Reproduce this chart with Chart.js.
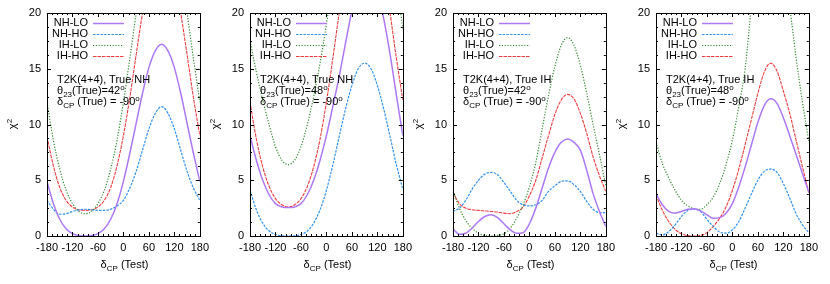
<!DOCTYPE html>
<html lang="en">
  <head>
    <meta charset="UTF-8" />
    <title>chi2 vs deltaCP, T2K(4+4)</title>
    <script src="https://cdn.jsdelivr.net/npm/chart.js"></script>
    <style>
      body {
        margin: 0;
        width: 830px;
        height: 284px;
        background: #fff;
        position: relative;
        overflow: hidden;
        font-family: "Liberation Sans", Arial, sans-serif;
        color: #000;
      }
      .panel {
        position: absolute;
        top: 0;
        width: 213px;
        height: 284px;
      }
      .note {
        position: absolute;
        top: 74px;
        font-size: 11px;
        line-height: 11px;
        white-space: nowrap;
      }
      .note div {
        height: 11px;
      }
      sub,
      sup {
        font-size: 8px;
        line-height: 0;
        position: relative;
        vertical-align: baseline;
      }
      sub {
        top: 3px;
      }
      sup {
        top: -4px;
      }
      .xtitle {
        position: absolute;
        top: 258px;
        width: 155px;
        text-align: center;
        font-size: 11px;
        line-height: 13px;
        white-space: nowrap;
      }
      .ytitle {
        position: absolute;
        top: 117px;
        width: 30px;
        height: 14px;
        text-align: center;
        font-size: 11px;
        line-height: 14px;
        transform: rotate(-90deg);
      }
    </style>
  </head>
  <body>
    <script>
      // delta_CP (test) grid, degrees
      const deltaCP = [
        -180, -165, -150, -135, -120, -105, -90, -75, -60, -45, -30, -15, 0,
        15, 30, 45, 60, 75, 90, 105, 120, 135, 150, 165, 180,
      ];
      const seriesNames = ["NH-LO", "NH-HO", "IH-LO", "IH-HO"];

      // True NH, theta23 = 42
      const nhLo1 = [4.9, 2.9, 1.5, 0.65, 0.22, 0.05, 0, 0.05, 0.22, 0.65, 1.5, 2.9, 4.9, 7.4, 10.1, 12.8, 15.1, 16.6, 17.2, 16.6, 15.1, 12.8, 10.1, 7.4, 4.9];
      const nhHo1 = [3.2, 2.4, 1.95, 2.0, 2.2, 2.35, 2.4, 2.35, 2.3, 2.3, 2.4, 2.7, 3.2, 4.3, 5.8, 7.7, 9.6, 11.0, 11.6, 11.0, 9.6, 7.7, 5.8, 4.3, 3.2];
      const ihLo1 = [12, 8.6, 6, 4.1, 2.9, 2.2, 2.0, 2.2, 2.9, 4.1, 6, 8.6, 12, 15.9, 20, 23.9, 27.1, 29.2, 30, 29.2, 27.1, 23.9, 20, 15.9, 12];
      const ihHo1 = [8.9, 6.3, 4.35, 3.2, 2.6, 2.35, 2.3, 2.35, 2.6, 3.2, 4.35, 6.3, 9, 12.4, 16.25, 20, 23.2, 25.3, 26.1, 25.3, 23.2, 20, 16.25, 12.4, 9];

      // True NH, theta23 = 48
      const nhLo2 = [9, 6.8, 5.0, 3.7, 2.9, 2.6, 2.55, 2.6, 2.9, 3.7, 5.0, 6.8, 9, 11.6, 14.3, 17.3, 20.2, 22.4, 23.5, 23.2, 21.8, 19.5, 16.3, 12.6, 9];
      const nhHo2 = [4.1, 2.35, 1.15, 0.45, 0.13, 0.02, 0, 0.02, 0.13, 0.45, 1.15, 2.35, 4.1, 6.35, 8.9, 11.4, 13.5, 15.0, 15.5, 15.0, 13.5, 11.4, 8.9, 6.35, 4.2];
      const ihLo2 = [17.5, 14.7, 12.2, 10.0, 8.0, 6.8, 6.4, 6.8, 8.0, 10.0, 12.5, 15.5, 19, 23, 27, 30, 32, 33, 33.5, 33, 32, 30, 27, 23, 18.6];
      const ihHo2 = [12, 8.7, 6.2, 4.45, 3.35, 2.8, 2.6, 2.8, 3.35, 4.45, 6.2, 8.7, 12, 15.9, 20, 24, 27.2, 29.4, 30.2, 29.4, 27.2, 24, 20, 15.9, 12.2];

      // True IH, theta23 = 42
      const nhLo3 = [0.65, 0.15, 0.25, 0.7, 1.3, 1.75, 1.9, 1.65, 1.1, 0.55, 0.25, 0.3, 1.1, 2.5, 4.3, 6.1, 7.5, 8.4, 8.7, 8.4, 7.7, 5.9, 3.8, 2.2, 0.85];
      const nhHo3 = [2.2, 2.5, 3.2, 4.2, 5.0, 5.55, 5.7, 5.5, 4.8, 4.0, 3.2, 2.8, 2.7, 2.8, 3.2, 4.0, 4.5, 4.9, 4.95, 4.6, 4.0, 3.1, 2.4, 2.1, 2.1];
      const ihLo3 = [4.1, 2.5, 1.4, 0.7, 0.25, 0.05, 0, 0.05, 0.2, 0.7, 1.6, 2.8, 4.4, 6.6, 9.6, 12.6, 15.2, 17.1, 17.8, 17.1, 15.3, 12.8, 10.0, 7.3, 4.5];
      const ihHo3 = [3.9, 2.9, 2.5, 2.35, 2.3, 2.25, 2.2, 2.15, 2.05, 2.0, 2.2, 2.6, 3.6, 5.0, 7.0, 9.0, 10.9, 12.2, 12.7, 12.3, 11.0, 9.2, 7.1, 5.4, 4.0];

      // True IH, theta23 = 48
      const nhLo4 = [3.8, 2.8, 2.2, 2.05, 2.2, 2.4, 2.45, 2.25, 1.9, 1.6, 1.65, 2.05, 2.9, 4.4, 6.2, 8.2, 10.2, 11.7, 12.3, 11.9, 10.6, 9.0, 7.3, 5.6, 3.9];
      const nhHo4 = [0.25, 0.1, 0.4, 1.0, 1.75, 2.3, 2.4, 2.2, 1.5, 0.85, 0.35, 0.25, 0.55, 1.3, 2.5, 3.8, 5.0, 5.8, 6.0, 5.7, 4.7, 3.4, 2.0, 1.0, 0.3];
      const ihLo4 = [8.4, 6.5, 5.2, 4.1, 3.2, 2.7, 2.45, 2.4, 2.8, 3.5, 4.7, 6.4, 8.6, 11.6, 15.0, 20.6, 24, 26.5, 27.3, 26.5, 24, 20.5, 16, 12, 8.5];
      const ihHo4 = [3.7, 2.3, 1.3, 0.6, 0.2, 0.03, 0, 0.05, 0.3, 0.85, 1.6, 2.6, 4.1, 6.0, 8.2, 10.5, 12.8, 14.7, 15.5, 14.8, 13.0, 11.0, 8.6, 6.2, 3.9];

      const trueHierarchy = ["NH", "NH", "IH", "IH"];
      const trueTheta23 = [42, 48, 42, 48];
      const panelSeries = [
        [nhLo1, nhHo1, ihLo1, ihHo1],
        [nhLo2, nhHo2, ihLo2, ihHo2],
        [nhLo3, nhHo3, ihLo3, ihHo3],
        [nhLo4, nhHo4, ihLo4, ihHo4],
      ];

      // styles
      const plotLefts = [47, 250, 453, 656];
      const lineColors = ["#ad78f6", "#2f92f2", "#2f8a2f", "#f23c3c"];
      const lineDashes = [[], [2.5, 1.2], [1.2, 1.6], [3.5, 1]];
      const lineWidths = [1.5, 1.2, 1.2, 1.1];

      Chart.defaults.font.family = '"Liberation Sans", Arial, sans-serif';
      Chart.defaults.font.size = 11;
      Chart.defaults.color = "#000";

      // gnuplot-like border with inward ticks on all four sides
      const frameTicks = {
        id: "frameTicks",
        afterDatasetsDraw(chart) {
          const { ctx, chartArea: a } = chart;
          const x = chart.scales.x;
          const y = chart.scales.y;
          ctx.save();
          ctx.strokeStyle = "#000";
          ctx.lineWidth = 1;
          ctx.setLineDash([]);
          ctx.beginPath();
          for (let v = -180; v <= 180; v += 12) {
            const px = Math.round(x.getPixelForValue(v)) + 0.5;
            const len = v % 60 === 0 ? 4 : 2;
            ctx.moveTo(px, a.bottom);
            ctx.lineTo(px, a.bottom - len);
            ctx.moveTo(px, a.top);
            ctx.lineTo(px, a.top + len);
          }
          for (let v = 0; v <= 20; v += 1.25) {
            const py = Math.round(y.getPixelForValue(v)) + 0.5;
            const len = v % 5 === 0 ? 4 : 2;
            ctx.moveTo(a.left, py);
            ctx.lineTo(a.left + len, py);
            ctx.moveTo(a.right, py);
            ctx.lineTo(a.right - len, py);
          }
          ctx.stroke();
          ctx.strokeRect(
            Math.round(a.left) + 0.5,
            Math.round(a.top) + 0.5,
            Math.round(a.right - a.left),
            Math.round(a.bottom - a.top)
          );
          ctx.restore();
        },
      };

      // key: label right-aligned, line sample to its right
      const gnuKey = {
        id: "gnuKey",
        afterDatasetsDraw(chart) {
          const { ctx, chartArea: a } = chart;
          ctx.save();
          ctx.font = '11px "Liberation Sans", Arial, sans-serif';
          ctx.textAlign = "right";
          ctx.textBaseline = "middle";
          chart.data.datasets.forEach((ds, i) => {
            const yy = a.top + 10 + i * 11;
            ctx.fillStyle = "#000";
            ctx.fillText(ds.label, a.left + 41, yy);
            ctx.strokeStyle = ds.borderColor;
            ctx.lineWidth = ds.borderWidth;
            ctx.setLineDash(ds.borderDash);
            ctx.beginPath();
            ctx.moveTo(a.left + 46, yy + 0.5);
            ctx.lineTo(a.left + 77, yy + 0.5);
            ctx.stroke();
          });
          ctx.restore();
        },
      };

      panelSeries.forEach((series, p) => {
        const left = plotLefts[p];

        const wrap = document.createElement("div");
        wrap.className = "panel";
        wrap.style.left = left - 46 + "px";
        const canvas = document.createElement("canvas");
        wrap.appendChild(canvas);
        document.body.appendChild(wrap);

        const note = document.createElement("div");
        note.className = "note";
        note.style.left = left + 10 + "px";
        note.innerHTML =
          "<div>T2K(4+4), True " + trueHierarchy[p] + "</div>" +
          "<div>&theta;<sub>23</sub>(True)=" + trueTheta23[p] + "<sup>o</sup></div>" +
          "<div>&delta;<sub>CP</sub> (True) = -90<sup>o</sup></div>";
        document.body.appendChild(note);

        const xt = document.createElement("div");
        xt.className = "xtitle";
        xt.style.left = left + "px";
        xt.innerHTML = "&delta;<sub>CP</sub> (Test)";
        document.body.appendChild(xt);

        const yt = document.createElement("div");
        yt.className = "ytitle";
        yt.style.left = left - 35 - 15 + "px";
        yt.innerHTML = "&chi;<sup>2</sup>";
        document.body.appendChild(yt);

        new Chart(canvas, {
          type: "line",
          data: {
            datasets: series.map((vals, i) => ({
              label: seriesNames[i],
              data: deltaCP.map((d, k) => ({ x: d, y: vals[k] })),
              borderColor: lineColors[i],
              borderDash: lineDashes[i],
              borderWidth: lineWidths[i],
              pointRadius: 0,
              fill: false,
              cubicInterpolationMode: "monotone",
            })),
          },
          options: {
            responsive: true,
            maintainAspectRatio: false,
            animation: false,
            layout: { padding: { top: 13, right: 12, left: 0, bottom: 0 } },
            plugins: {
              legend: { display: false },
              tooltip: { enabled: false },
            },
            scales: {
              x: {
                type: "linear",
                min: -180,
                max: 180,
                grid: { display: false, drawTicks: false },
                border: { display: false },
                ticks: { stepSize: 60, autoSkip: false, maxRotation: 0, padding: 5 },
                afterFit(scale) {
                  scale.height = 48;
                },
              },
              y: {
                min: 0,
                max: 20,
                grid: { display: false, drawTicks: false },
                border: { display: false },
                ticks: { stepSize: 5, padding: 6 },
                afterFit(scale) {
                  scale.width = 46;
                },
              },
            },
          },
          plugins: [frameTicks, gnuKey],
        });
      });
    </script>
  </body>
</html>
